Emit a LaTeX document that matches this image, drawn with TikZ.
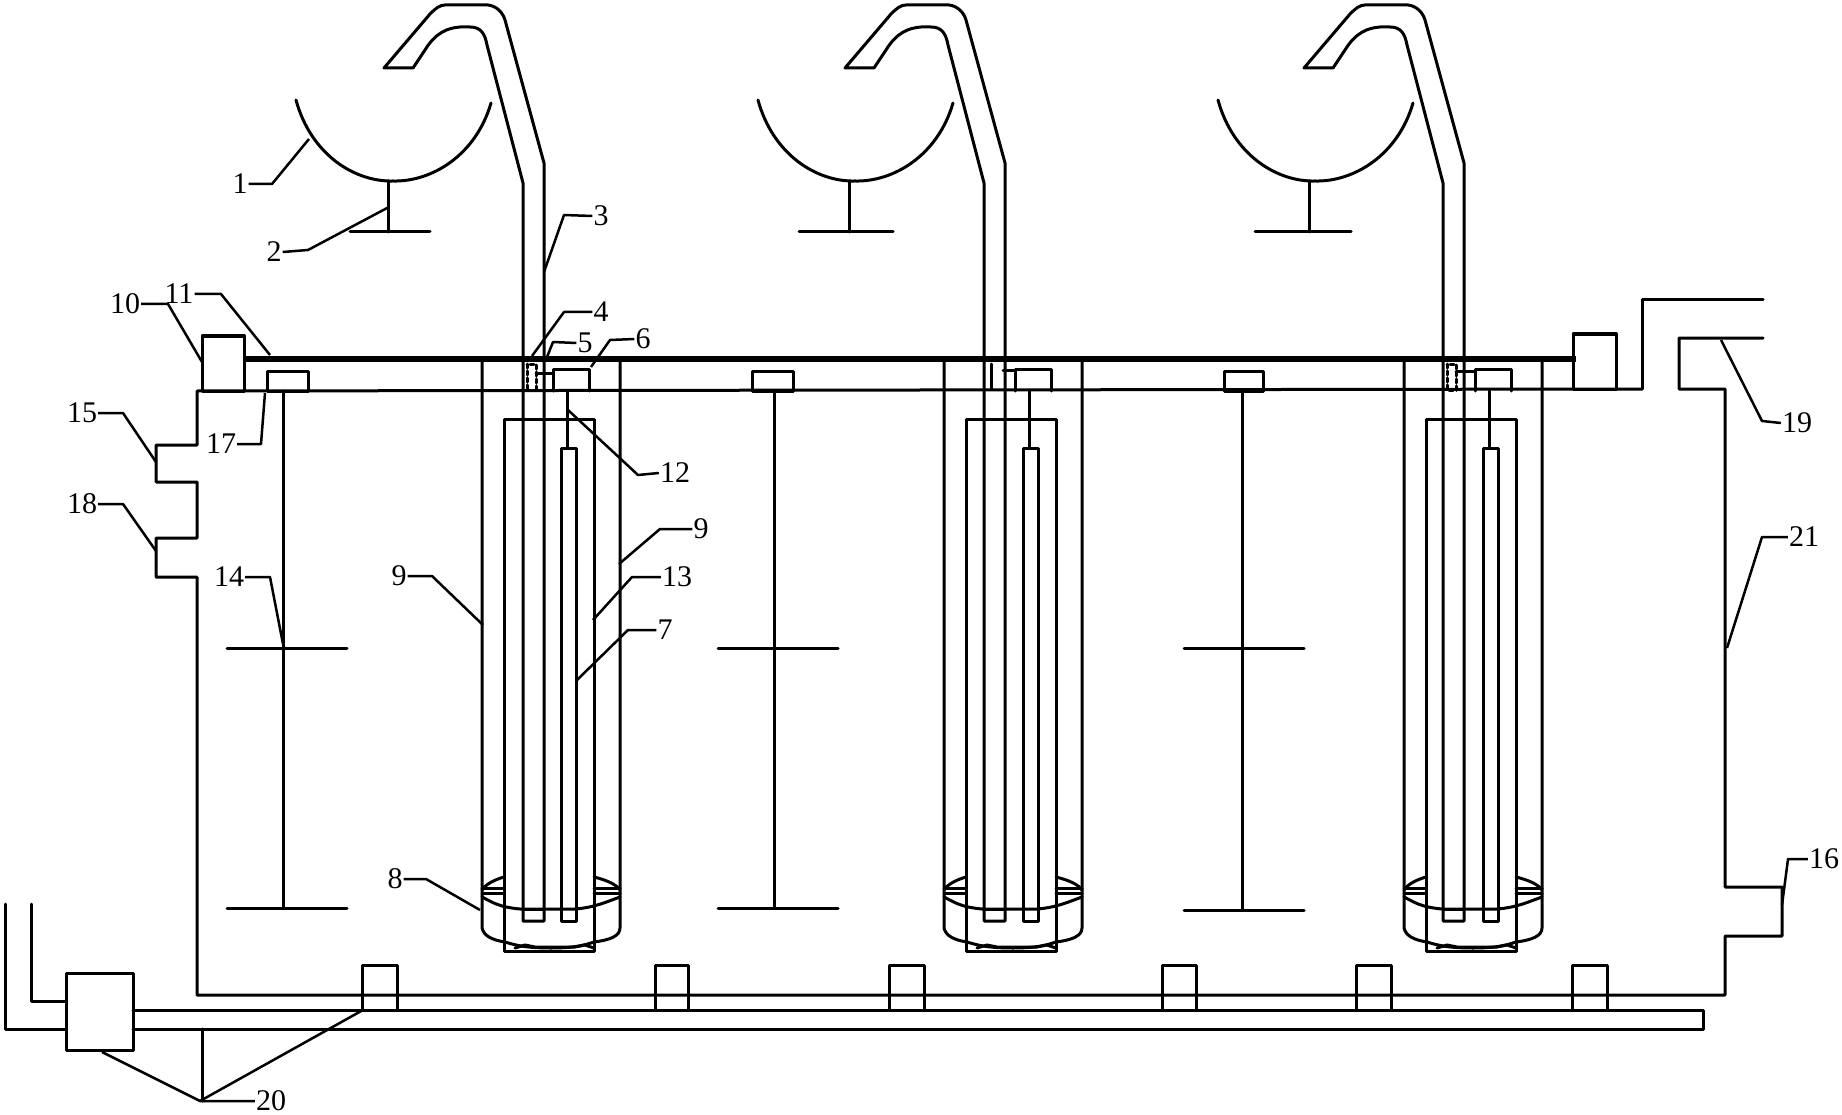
\documentclass[tikz,border=0pt]{standalone}
\usepackage{fontspec}
\setmainfont{Liberation Serif}
\tikzset{
  ln/.style={line width=3pt,line cap=round,line join=round},
  thick bar/.style={line width=5.5pt},
  lead/.style={line width=2.5pt,line join=round},
  lbl/.style={font=\fontsize{30}{30}\selectfont,inner sep=1pt,text=black},
}
\begin{document}
\begin{tikzpicture}[x=1pt,y=-1pt]
\useasboundingbox[fill=white] (0,0) rectangle (1842,1115);
% tank outline
\draw[ln] (1642,389) -- (197,391) -- (197,445) -- (156,445) -- (156,482) -- (197,482) -- (197,538) -- (156,538) -- (156,577) -- (197,577) -- (197,995) -- (1725,995) -- (1725,936) -- (1782,936) -- (1782,887) -- (1725,887) -- (1725,389) -- (1679,389) -- (1679,338) -- (1763,338);
\draw[ln] (1642,389) -- (1642,300) -- (1763,300);
% top bar and end boxes
\draw[thick bar] (243,359) -- (1576,359);
\draw[ln] (202,391) rectangle (244,336);
\draw[ln] (1573,389) rectangle (1616,334);
% dishes
\foreach \dx/\st/\ba/\bb in {0/388/350/430,462/849/799/893,922/1309/1255/1351}{
\begin{scope}[xshift=\dx pt]
\draw[ln] (296,100) .. controls (311,155) and (355,182) .. (393,181) .. controls (432,182) and (476,155) .. (491,103);
\end{scope}
\draw[ln] (\st,181) -- (\st,232);
\draw[ln] (\ba,232) -- (\bb,232);
}
% mixers
\foreach \sx/\bl/\br/\bb/\xa/\xb/\yb in {283/267/308/0/227/347/908,774/752/793/0/718/838/908,1242/1224/1263/0/1184/1304/910}{
\draw[ln] (\bl,371) rectangle (\br,391);
\draw[ln] (\sx,391) -- (\sx,\yb);
\draw[ln] (\xa,648) -- (\xb,648);
\draw[ln] (\xa,\yb) -- (\xb,\yb);
}
% reactor units
\foreach \dx/\pd in {0/0,462/461,922/920}{
\begin{scope}[xshift=\dx pt]
\draw[ln] (482,359) -- (482,928) .. controls (484,936) and (492,940) .. (505,942) .. controls (515,945) and (525,948) .. (551,948) .. controls (575,948) and (585,945) .. (594,942) .. controls (610,940) and (620,936) .. (620,928) -- (620,359);
\draw[ln] (504,951) -- (504,419) -- (594,419) -- (594,951) -- cycle;
\draw[ln] (561,921) -- (561,448) -- (576,448) -- (576,921) -- cycle;
\draw[ln] (553,391) -- (553,369) -- (589,369) -- (589,391);
\draw[ln] (567,391) -- (567,448);
\draw[ln] (482,897) .. controls (492,902) and (498,907) .. (520,909) -- (576,909) .. controls (596,907) and (606,902) .. (620,897);
\draw[ln] (482,890) .. controls (486,884) and (494,880) .. (504,877);
\draw[ln] (594,877) .. controls (606,880) and (616,884) .. (620,890);
\foreach \yy in {888,893}{
\draw[ln] (482,\yy) -- (504,\yy);
\draw[ln] (594,\yy) -- (620,\yy);
}
\draw[ln] (515,948) -- (525,945) -- (535,947) -- (575,947) -- (585,945) -- (594,948);
\end{scope}
\begin{scope}[xshift=\pd pt]
\draw[ln] (523,921) -- (523,183) -- (487,45) .. controls (485,34) and (481,27) .. (470,27) -- (460,27) .. controls (448,28) and (436,32) .. (425,50) -- (413,68) -- (384,68) -- (430,14) .. controls (436,8) and (440,5) .. (445,5) -- (488,5) .. controls (497,6) and (503,13) .. (505,20) -- (544,163) -- (544,921) -- cycle;
\draw[ln] (523,909) -- (544,909);
\end{scope}
}
% component 5 details
\draw[ln,dashed,dash pattern=on 4pt off 3pt] (527,364) rectangle (536,390);
\draw[ln] (536,373) -- (553,373);
\draw[ln] (991,364) -- (991,389);
\draw[ln] (1003,370) -- (1015,370);
\draw[ln,dashed,dash pattern=on 4pt off 3pt] (1447,364) rectangle (1456,390);
\draw[ln] (1456,371) -- (1475,371);
% bottom pipes
\draw[ln] (133,1010) -- (1703,1010) -- (1703,1029) -- (133,1029);
\draw[ln] (5,904) -- (5,1029) -- (66,1029);
\draw[ln] (31,904) -- (31,1001) -- (66,1001);
\draw[ln] (66,973) rectangle (133,1050);
\draw[ln] (202,1029) -- (202,1101);
\foreach \a/\b in {362/397,655/688,889/924,1162/1196,1356/1391,1572/1607}{
\draw[ln] (\a,1010) -- (\a,965) -- (\b,965) -- (\b,1010);
}
% labels
\node[lbl] (n1) at (240,184) {1};
\node[lbl] (n2) at (274,252) {2};
\node[lbl] (n3) at (601,216) {3};
\node[lbl] (n4) at (601,312) {4};
\node[lbl] (n5) at (585,343) {5};
\node[lbl] (n6) at (643,339) {6};
\node[lbl] (n7) at (665,630) {7};
\node[lbl] (n8) at (395,879) {8};
\node[lbl] (n9a) at (399,576) {9};
\node[lbl] (n9b) at (701,529) {9};
\node[lbl] (n10) at (125,304) {10};
\node[lbl] (n11) at (179,294) {11};
\node[lbl] (n12) at (675,473) {12};
\node[lbl] (n13) at (677,577) {13};
\node[lbl] (n14) at (229,577) {14};
\node[lbl] (n15) at (82,413) {15};
\node[lbl] (n16) at (1824,859) {16};
\node[lbl] (n17) at (221,444) {17};
\node[lbl] (n18) at (82,504) {18};
\node[lbl] (n19) at (1797,423) {19};
\node[lbl] (n20) at (271,1101) {20};
\node[lbl] (n21) at (1804,537) {21};
% leaders
\draw[lead] (n1.east) -- (272,184) -- (309,139);
\draw[lead] (n2.east) -- (308,250) -- (389,207);
\draw[lead] (n3.west) -- (564,215) -- (544,272);
\draw[lead] (n4.west) -- (564,312) -- (532,356);
\draw[lead] (n5.west) -- (553,342) -- (547,357);
\draw[lead] (n6.west) -- (610,340) -- (591,367);
\draw[lead] (n7.west) -- (628,630) -- (577,680);
\draw[lead] (n8.east) -- (426,879) -- (480,910);
\draw[lead] (n9a.east) -- (432,576) -- (483,625);
\draw[lead] (n9b.west) -- (660,529) -- (619,564);
\draw[lead] (n10.east) -- (168,304) -- (202,362);
\draw[lead] (n11.east) -- (221,294) -- (270,355);
\draw[lead] (n12.west) -- (638,475) -- (568,410);
\draw[lead] (n13.west) -- (632,577) -- (593,620);
\draw[lead] (n14.east) -- (270,577) -- (283,644);
\draw[lead] (n15.east) -- (123,413) -- (156,462);
\draw[lead] (n16.west) -- (1788,859) -- (1782,905);
\draw[lead] (n17.east) -- (261,444) -- (265,393);
\draw[lead] (n18.east) -- (123,504) -- (156,551);
\draw[lead] (n19.west) -- (1762,421) -- (1721,340);
\draw[lead] (n20.west) -- (200,1101) -- (102,1052);
\draw[lead] (200,1101) -- (363,1010);
\draw[lead] (n21.west) -- (1762,537) -- (1727,648);
\end{tikzpicture}
\end{document}
